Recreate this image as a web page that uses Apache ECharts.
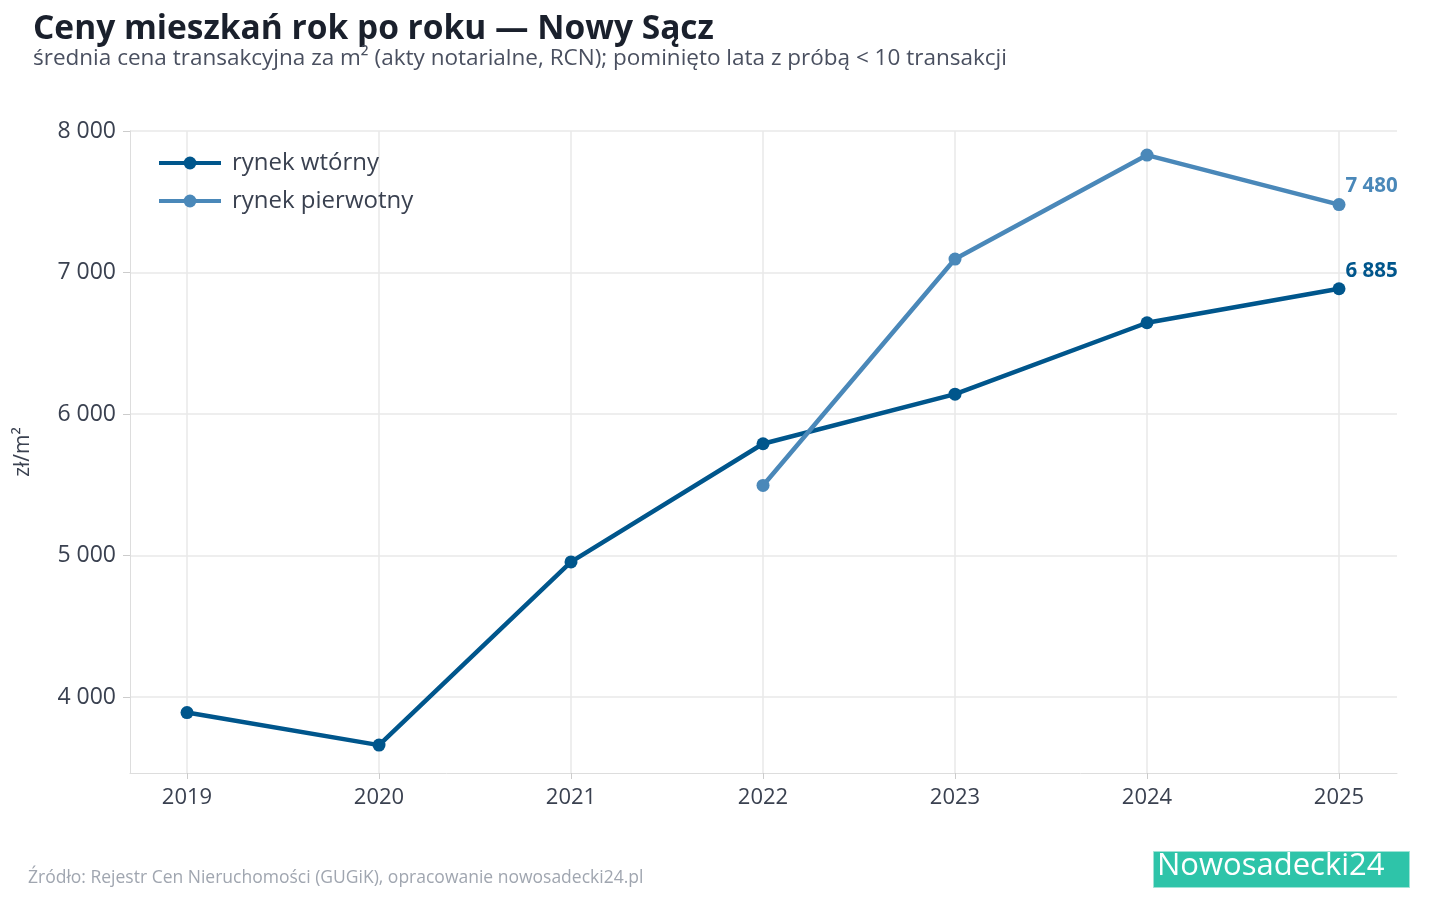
<!DOCTYPE html>
<html><head><meta charset="utf-8">
<script src="https://cdn.jsdelivr.net/npm/echarts@6/dist/echarts.min.js"></script>
<style>html,body{margin:0;padding:0;background:#fff}#c{width:1440px;height:900px}</style>
</head><body><div id="c"></div>
<script>
const years = [2019, 2020, 2021, 2022, 2023, 2024, 2025];
const wtorny = [3890, 3660, 4955, 5790, 6140, 6645, 6885];
const pierwotny = [null, null, null, 5495, 7095, 7830, 7480];
const yTicks = [4000, 5000, 6000, 7000, 8000];
const fmt = v => String(v).replace(/\B(?=(\d{3})+(?!\d))/g, ' ');
const F = '"Open Sans","Noto Sans",sans-serif';
const ch = echarts.init(document.getElementById('c'));
const last = (arr, color) => ({
  show: true, formatter: p => p.dataIndex === years.length - 1 ? fmt(p.value[1]) : '',
  position: [13, -22], color, fontWeight: 'bold', fontSize: 20.5, fontFamily: F
});
ch.setOption({
  animation: false,
  title: {
    text: 'Ceny mieszkań rok po roku — Nowy Sącz',
    subtext: 'średnia cena transakcyjna za m² (akty notarialne, RCN); pominięto lata z próbą < 10 transakcji',
    left: 28, top: 7, itemGap: 1,
    textStyle: { fontSize: 33.5, fontWeight: 'bold', color: '#1a202c', fontFamily: F },
    subtextStyle: { fontSize: 22.5, color: '#4a5060', fontFamily: F }
  },
  legend: {
    left: 152, top: 146, orient: 'vertical', itemGap: 14, itemWidth: 62, itemHeight: 16,
    lineStyle: { width: 4 },
    textStyle: { fontSize: 24, color: '#3a4150', fontFamily: F, padding: [0, 0, 0, 6] }
  },
  grid: { left: 130, right: 43, top: 131, bottom: 127 },
  xAxis: {
    type: 'value', min: 2018.703, max: 2025.302,
    axisLine: { lineStyle: { color: '#dddddd' } },
    axisTick: { customValues: years, length: 6, lineStyle: { color: '#cccccc' } },
    axisLabel: { customValues: years, formatter: v => String(v), fontSize: 22, color: '#3a4150', margin: 14, fontFamily: F },
    splitLine: { show: true, lineStyle: { color: '#e8e8e8', width: 1.5 } }
  },
  yAxis: {
    type: 'value', min: 3463, max: 8000, name: 'zł/m²', nameLocation: 'middle', nameGap: 96,
    nameTextStyle: { fontSize: 21, color: '#3a4150', fontFamily: F },
    axisLine: { show: true, lineStyle: { color: '#dddddd' } },
    axisTick: { show: true, customValues: yTicks, length: 7, lineStyle: { color: '#cccccc' } },
    axisLabel: { customValues: yTicks, formatter: fmt, fontSize: 23, color: '#3a4150', margin: 14, fontFamily: F },
    splitLine: { show: true, lineStyle: { color: '#e8e8e8', width: 1.5 } }
  },
  series: [
    { name: 'rynek wtórny', type: 'line', data: years.map((y, i) => [y, wtorny[i]]),
      color: '#00568c', lineStyle: { width: 4.5 }, symbol: 'circle', symbolSize: 13,
      label: last(wtorny, '#00568c') },
    { name: 'rynek pierwotny', type: 'line', data: years.map((y, i) => [y, pierwotny[i]]),
      color: '#4a88b9', lineStyle: { width: 4.5 }, symbol: 'circle', symbolSize: 13,
      label: last(pierwotny, '#4a88b9') }
  ],
  graphic: [
    { type: 'text', left: 28, top: 869, style: { text: 'Źródło: Rejestr Cen Nieruchomości (GUGiK), opracowanie nowosadecki24.pl', fontSize: 17.5, fill: '#a0a6b0', fontFamily: F } },
    { type: 'rect', left: 1153, top: 851, shape: { width: 256, height: 36 }, style: { fill: '#2ec4a9', stroke: '#9fe3d6', lineWidth: 1 } },
    { type: 'text', left: 1157, top: 851, style: { text: 'Nowosadecki24', fontSize: 31, fill: '#ffffff', fontFamily: F } }
  ]
});
</script></body></html>
